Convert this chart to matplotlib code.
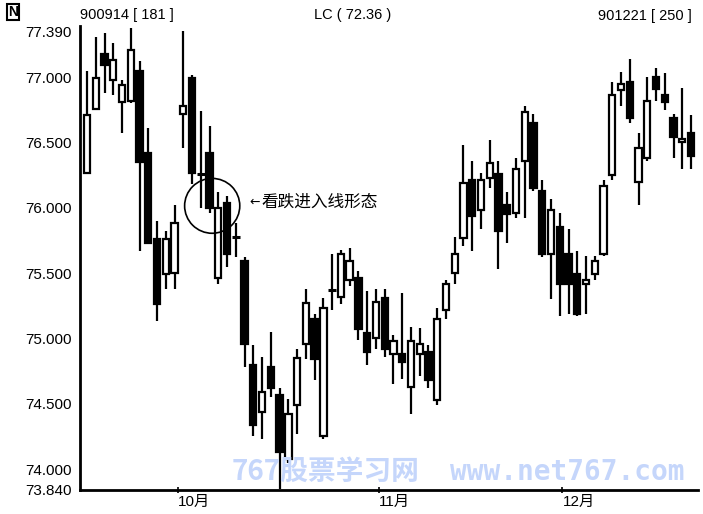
import matplotlib
matplotlib.use("Agg")
import matplotlib.pyplot as plt
from matplotlib.patches import Ellipse

# daily OHLC, 900914 .. 901221
opens = [76.27, 76.76, 77.18, 76.98, 76.81, 76.82, 77.05, 76.42, 75.76, 75.49,
         75.50, 76.72, 76.99, 76.26, 76.42, 75.46, 76.04, 75.78, 75.59, 74.80,
         74.44, 74.78, 74.57, 74.08, 74.49, 74.96, 75.15, 74.25, 75.37, 75.32,
         75.45, 75.46, 75.04, 75.00, 75.31, 74.88, 74.88, 74.63, 74.88, 74.90,
         74.53, 75.22, 75.50, 75.77, 76.21, 75.98, 76.23, 76.26, 76.02, 75.96,
         76.36, 76.65, 76.13, 75.65, 75.85, 75.65, 75.49, 75.42, 75.49, 75.65,
         76.25, 76.90, 76.96, 76.20, 76.38, 77.00, 76.86, 76.69, 76.50, 76.57]
highs = [77.05, 77.31, 77.34, 77.26, 76.98, 77.38, 77.12, 76.61, 75.90, 75.82,
         76.02, 77.35, 77.02, 76.74, 76.63, 76.12, 76.09, 75.88, 75.62, 74.95,
         74.86, 75.05, 74.62, 74.54, 74.92, 75.38, 75.19, 75.31, 75.65, 75.68,
         75.69, 75.52, 75.36, 75.38, 75.38, 75.03, 75.35, 75.09, 75.08, 74.95,
         75.23, 75.45, 75.78, 76.48, 76.36, 76.27, 76.52, 76.36, 76.12, 76.38,
         76.78, 76.72, 76.21, 76.07, 75.96, 75.84, 75.67, 75.63, 75.63, 76.21,
         76.96, 77.04, 77.14, 76.57, 77.00, 77.07, 77.03, 76.72, 76.92, 76.71]
lows = [76.26, 76.75, 76.88, 76.86, 76.57, 76.80, 75.67, 75.72, 75.13, 75.38,
        75.38, 76.46, 76.18, 76.00, 75.96, 75.42, 75.55, 75.62, 74.78, 74.25,
        74.23, 74.55, 73.85, 74.05, 74.27, 74.84, 74.68, 74.23, 75.22, 75.26,
        75.40, 74.99, 74.80, 74.92, 74.86, 74.65, 74.69, 74.42, 74.71, 74.62,
        74.49, 75.15, 75.42, 75.71, 75.67, 75.84, 76.15, 75.53, 75.73, 75.92,
        75.92, 76.13, 75.62, 75.30, 75.17, 75.19, 75.17, 75.19, 75.45, 75.63,
        76.21, 76.78, 76.65, 76.02, 76.36, 76.82, 76.75, 76.38, 76.30, 76.30]
closes = [76.71, 76.99, 77.09, 77.13, 76.94, 77.21, 76.35, 75.73, 75.26, 75.76,
          75.88, 76.78, 76.27, 76.26, 76.00, 76.00, 75.65, 75.78, 74.96, 74.34,
          74.59, 74.62, 74.13, 74.42, 74.85, 75.27, 74.84, 75.23, 75.37, 75.65,
          75.59, 75.07, 74.90, 75.28, 74.92, 74.98, 74.82, 74.98, 74.96, 74.68,
          75.15, 75.42, 75.65, 76.19, 75.94, 76.21, 76.34, 75.82, 75.95, 76.30,
          76.73, 76.15, 75.65, 75.98, 75.42, 75.42, 75.19, 75.45, 75.59, 76.17,
          76.86, 76.95, 76.69, 76.46, 76.82, 76.91, 76.81, 76.54, 76.53, 76.40]

y_ticks = [77.39, 77.0, 76.5, 76.0, 75.5, 75.0, 74.5, 74.0, 73.84]
y_labels = ["77.390", "77.000", "76.500", "76.000", "75.500",
            "75.000", "74.500", "74.000", "73.840"]
month_pos = [10.4, 33.3, 54.3]
month_labels = ["10月", "11月", "12月"]

plt.rcParams['font.family'] = ['Liberation Sans', 'Noto Sans CJK SC', 'DejaVu Sans']

fig = plt.figure(figsize=(7.03, 5.14), dpi=100)
ax = fig.add_axes([0.1138, 0.0467, 0.993 - 0.1138, 0.949 - 0.0467])

for i in range(len(opens)):
    o, h, l, c = opens[i], highs[i], lows[i], closes[i]
    ax.vlines(i, l, h, color='black', linewidth=1.6, zorder=2)
    if abs(c - o) < 0.005:
        ax.hlines(o, i - 0.45, i + 0.45, color='black', linewidth=2.2, zorder=3)
    else:
        fill = 'white' if c > o else 'black'
        ax.bar(i, c - o, bottom=o, width=0.72, color=fill,
               edgecolor='black', linewidth=1.6, zorder=3)

ax.set_xlim(-0.8, 69.8)
ax.set_ylim(73.84, 77.39)

ax.spines['top'].set_visible(False)
ax.spines['right'].set_visible(False)
ax.spines['left'].set_linewidth(2)
ax.spines['bottom'].set_linewidth(2)

ax.set_yticks(y_ticks)
ax.set_yticklabels(y_labels, fontsize=11)
ax.tick_params(axis='y', length=0, pad=6)
ax.get_yticklabels()[0].set_va('top')
ax.set_xticks(month_pos)
ax.set_xticklabels(month_labels, fontsize=11, ha='left')
ax.tick_params(axis='x', length=5, width=1.2, direction='inout', pad=1)

# pattern mark
ax.add_patch(Ellipse((14.3, 76.015), 6.3, 0.42, fill=False,
                     edgecolor='black', linewidth=1.2, zorder=4))
ax.text(18.6, 76.04, "←", fontsize=9, va='center', ha='left',
        family=['DejaVu Sans'])
ax.text(19.9, 76.04, "看跌进入线形态", fontsize=12, va='center', ha='left',
        family=['Noto Sans CJK SC'])

# header texts
fig.text(80 / 703, 1 - 15 / 514, "900914 [ 181 ]", fontsize=10.5, va='center')
fig.text(353 / 703, 1 - 15 / 514, "LC ( 72.36 )", fontsize=10.5, va='center', ha='center')
fig.text(692 / 703, 1 - 16 / 514, "901221 [ 250 ]", fontsize=10.5, va='center', ha='right')
fig.text(8 / 703, 1 - 12 / 514, "N", fontsize=10, fontweight='bold', va='center',
         bbox=dict(boxstyle='square,pad=0.1', facecolor='white', edgecolor='black', linewidth=1.5))

# watermark
fig.text(232 / 703, 1 - 472 / 514, "767股票学习网", fontsize=20, fontweight='bold',
         color='#c5d6fb', va='center', family=['Noto Sans CJK SC'])
fig.text(450 / 703, 1 - 472 / 514, "www.net767.com", fontsize=20, fontweight='bold',
         color='#c5d6fb', va='center', ha='left', family=['DejaVu Sans Mono'])

fig.savefig("out.png", dpi=100)
